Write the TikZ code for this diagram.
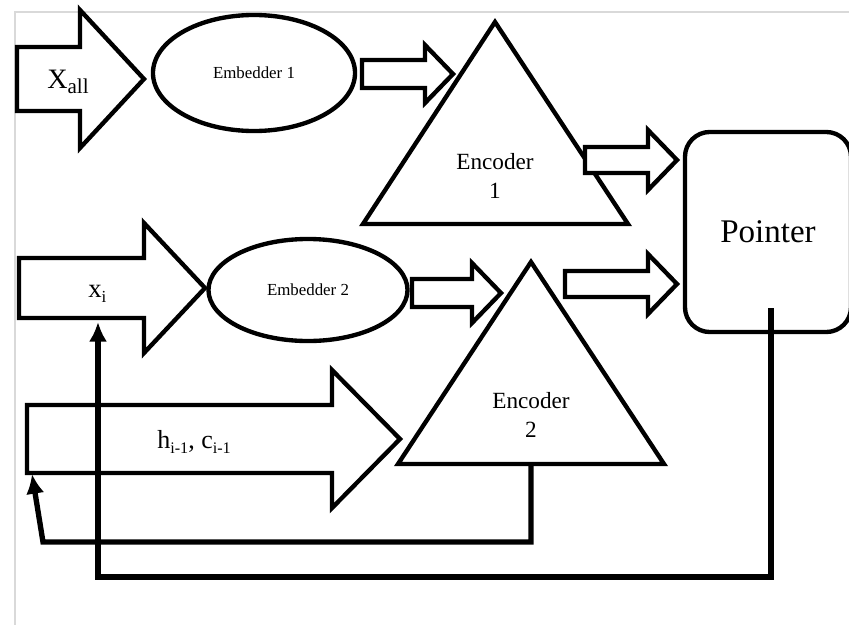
\documentclass[tikz,border=0pt]{standalone}
\usepackage{fontspec}
\setmainfont{Liberation Serif}
\usepackage{tikz}
\usetikzlibrary{arrows.meta,positioning,calc,shapes.geometric}

% block arrow: left x, neck x, tip x, middle y, half shaft, half head
\newcommand{\blockarrow}[6]{%
  \draw[blockarr] (#1,#4-#5) -- (#2,#4-#5) -- (#2,#4-#6) -- (#3,#4)
    -- (#2,#4+#6) -- (#2,#4+#5) -- (#1,#4+#5) -- cycle;}
\newcommand{\lowsub}[2]{\raisebox{-4pt}{\fontsize{#1}{#1}\selectfont #2}}

\tikzset{
  shapeline/.style={draw,line width=3.1pt,line join=miter},
  blockarr/.style={shapeline,fill=white},
  embbox/.style={shapeline,ellipse,inner sep=0pt,font=\fontsize{12}{14}\selectfont},
  enclabel/.style={align=center,inner sep=0pt,font=\fontsize{16.5}{20}\selectfont},
  feedback/.style={line width=3.8pt,line join=miter,-{Latex[length=14pt,width=13pt]}}
}

\begin{document}
\begin{tikzpicture}[x=0.025cm,y=-0.025cm]
  \useasboundingbox (0,0) rectangle (849,625);
  \draw[gray!30,line width=0.8pt] (849,12) -- (15,12) -- (15,625);

  % encoders
  \draw[shapeline] (495,22) -- (628,224) -- (363,224) -- cycle;
  \node[enclabel] (enc1) at (495,176) {Encoder\\1};
  \draw[shapeline] (531,262) -- (664,464) -- (398,464) -- cycle;
  \coordinate (enc2 base) at (531,464);
  \node[enclabel] (enc2) at (531,415) {Encoder\\2};

  % embedders and pointer
  \node[embbox,minimum width=5.05cm,minimum height=2.9cm] (emb1) at (254,73) {Embedder 1};
  \node[embbox,minimum width=4.975cm,minimum height=2.55cm] (emb2) at (308,290) {Embedder 2};
  \node[shapeline,rounded corners=0.62cm,minimum width=4.15cm,minimum height=5cm,
        font=\fontsize{23.5}{26}\selectfont] (ptr) at (768,232) {Pointer};

  % inputs
  \blockarrow{17}{80}{144}{79}{32}{69}
  \node[anchor=base west,inner sep=0pt,font=\fontsize{20}{22}\selectfont] (xall) at (47,88) {X\lowsub{15}{all}};
  \blockarrow{19}{144}{205}{288}{30}{65}
  \node[anchor=base west,inner sep=0pt,font=\fontsize{19}{21}\selectfont] (xi) at (88,297) {x\lowsub{12}{i}};
  \blockarrow{27}{332}{400}{439}{34}{69}
  \node[anchor=base west,inner sep=0pt,font=\fontsize{18.5}{21}\selectfont] (hc) at (157,448) {h\lowsub{11.5}{i-1}, c\lowsub{11.5}{i-1}};

  % links
  \blockarrow{362}{425}{453}{74}{14}{29}
  \blockarrow{412}{472}{501}{293}{14}{30}
  \blockarrow{585}{648}{677}{160}{13}{30}
  \blockarrow{565}{648}{677}{284}{13}{30}

  % feedback
  \coordinate (state in) at (32,474);
  \coordinate (x in) at (98,322);
  \coordinate (ptr out) at (771,308);
  \draw[feedback] (enc2 base) -- (531,542) -- (43,542) -- (state in);
  \draw[feedback] (ptr out) -- (771,577) -- (98,577) -- (x in);
\end{tikzpicture}
\end{document}
